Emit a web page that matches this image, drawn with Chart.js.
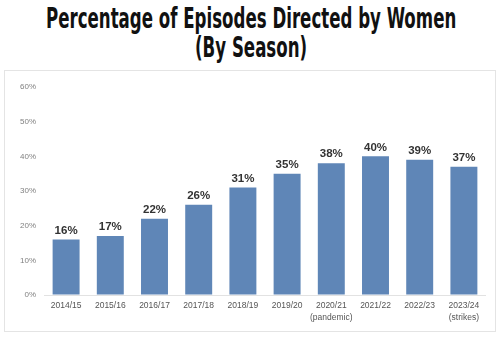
<!DOCTYPE html>
<html>
<head>
<meta charset="utf-8">
<script src="https://cdn.jsdelivr.net/npm/chart.js@4"></script>
<style>
  html, body { margin: 0; padding: 0; background: #ffffff; }
  #wrap { position: relative; width: 502px; height: 338px; overflow: hidden; }
  .tline { position: absolute; left: 0; white-space: nowrap;
           font-family: "DejaVu Sans Condensed", "Liberation Sans Narrow", "Roboto Condensed", "DejaVu Sans", sans-serif;
           font-weight: bold; font-size: 27.5px; line-height: 29px; color: #111; transform-origin: 0 0; }
  #t1 { top: 4px; }
  #t2 { top: 33px; }
  #panel { position: absolute; left: 4px; top: 70px; width: 490px; height: 260px;
           border: 1px solid #e4e4e4; box-sizing: content-box; }
  canvas { position: absolute; left: 0; top: 0; }
</style>
</head>
<body>
<div id="wrap">
  <div id="panel"></div>
  <div id="t1" class="tline">Percentage of Episodes Directed by Women</div>
  <div id="t2" class="tline">(By Season)</div>
  <canvas id="c" width="502" height="338"></canvas>
</div>
<script>
const titleLines = ["Percentage of Episodes Directed by Women", "(By Season)"];
const categories = [["2014/15"], ["2015/16"], ["2016/17"], ["2017/18"], ["2018/19"], ["2019/20"], ["2020/21", "(pandemic)"], ["2021/22"], ["2022/23"], ["2023/24", "(strikes)"]];
const values = [16, 17, 22, 26, 31, 35, 38, 40, 39, 37];
const yTicks = [0, 10, 20, 30, 40, 50, 60];

// fit condensed title to the reference width
(function () {
  const t1 = document.getElementById('t1');
  const t2 = document.getElementById('t2');
  t1.textContent = titleLines[0];
  t2.textContent = titleLines[1];
  const s = 410 / t1.offsetWidth;
  [t1, t2].forEach(el => {
    const w = el.offsetWidth * s;
    el.style.left = ((502 - w) / 2) + 'px';
    el.style.transform = 'scaleX(' + s + ')';
  });
})();

const valueLabels = {
  id: 'valueLabels',
  afterDatasetsDraw(chart) {
    const ctx = chart.ctx;
    const meta = chart.getDatasetMeta(0);
    ctx.save();
    ctx.font = 'bold 11.5px "Liberation Sans", Arial, sans-serif';
    ctx.fillStyle = '#333333';
    ctx.textAlign = 'center';
    ctx.textBaseline = 'middle';
    meta.data.forEach((bar, i) => {
      ctx.fillText(values[i] + '%', bar.x, bar.y - 9);
    });
    ctx.restore();
  }
};

new Chart(document.getElementById('c'), {
  type: 'bar',
  data: {
    labels: categories,
    datasets: [{
      data: values,
      backgroundColor: '#5f86b7',
      barPercentage: 0.61,
      categoryPercentage: 1.0
    }]
  },
  options: {
    responsive: false,
    animation: false,
    events: [],
    layout: { padding: { left: 0, right: 16, top: 87, bottom: 0 } },
    plugins: { legend: { display: false }, tooltip: { enabled: false }, title: { display: false } },
    scales: {
      x: {
        grid: { display: false, drawTicks: false },
        border: { display: false },
        ticks: {
          color: '#555555', padding: 4,
          font: { family: '"Liberation Sans", Arial, sans-serif', size: 8.5, lineHeight: 1.5 },
          maxRotation: 0, autoSkip: false
        },
        afterFit(scale) { scale.height = 43; }
      },
      y: {
        min: 0, max: 60,
        afterBuildTicks(scale) { scale.ticks = yTicks.map(v => ({ value: v })); },
        grid: {
          drawTicks: false,
          color: (c) => (c.tick && c.tick.value === 0) ? '#e2e2e2' : 'rgba(0,0,0,0)'
        },
        border: { display: false },
        ticks: {
          color: '#808080', padding: 8,
          font: { family: '"Liberation Sans", Arial, sans-serif', size: 8 },
          callback: (v) => v + '%'
        },
        afterFit(scale) { scale.width = 44; }
      }
    }
  },
  plugins: [valueLabels]
});
</script>
</body>
</html>
